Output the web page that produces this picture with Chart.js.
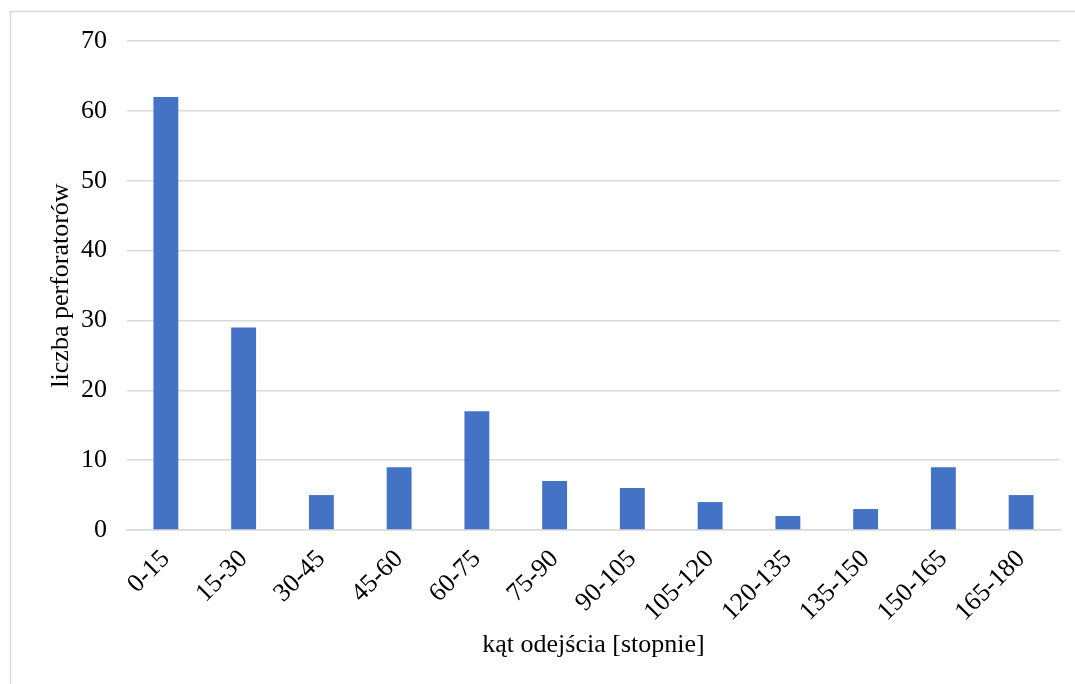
<!DOCTYPE html>
<html>
<head>
<meta charset="utf-8">
<script src="https://cdn.jsdelivr.net/npm/chart.js@4.4.0/dist/chart.umd.min.js"></script>
<style>
html,body{margin:0;padding:0;background:#fff;}
#wrap{position:relative;width:1075px;height:684px;}
</style>
</head>
<body>
<div id="wrap"><canvas id="c" width="1075" height="684"></canvas></div>
<script>
const categories = ["0-15","15-30","30-45","45-60","60-75","75-90","90-105","105-120","120-135","135-150","150-165","165-180"];
const counts = [62, 29, 5, 9, 17, 7, 6, 4, 2, 3, 9, 5];
const yTicks = [0, 10, 20, 30, 40, 50, 60, 70];
const xTitle = "kąt odejścia [stopnie]";
const yTitle = "liczba perforatorów";

const FONT = "'Liberation Serif', 'Times New Roman', serif";
const PAD_L = 46, PAD_B = 23;

const frame = {
  id: 'frame',
  beforeDraw(chart) {
    const ctx = chart.ctx;
    ctx.save();
    ctx.fillStyle = '#fff';
    ctx.fillRect(0, 0, chart.width, chart.height);
    ctx.strokeStyle = '#d9d9d9';
    ctx.lineWidth = 1.5;
    ctx.strokeRect(10.5, 11.5, 1080, 700);
    ctx.restore();
  }
};

new Chart(document.getElementById('c'), {
  type: 'bar',
  data: {
    labels: categories,
    datasets: [{
      data: counts,
      backgroundColor: '#4472c4',
      borderWidth: 0,
      barPercentage: 0.32,
      categoryPercentage: 1
    }]
  },
  options: {
    responsive: false,
    animation: false,
    devicePixelRatio: 1,
    layout: { padding: { top: 41, right: 15, bottom: PAD_B, left: PAD_L } },
    plugins: { legend: { display: false }, tooltip: { enabled: false } },
    scales: {
      x: {
        grid: { display: false, drawTicks: false },
        border: { color: '#d9d9d9', width: 1.5 },
        ticks: {
          color: '#000',
          font: { family: FONT, size: 26 },
          maxRotation: 45, minRotation: 45,
          padding: 14,
          autoSkip: false
        },
        title: {
          display: true, text: xTitle, color: '#000',
          font: { family: FONT, size: 26 },
          padding: { top: 0, bottom: 0 }
        },
        afterFit(scale) { scale.height = 684 - 530 - PAD_B; }
      },
      y: {
        min: 0, max: 70,
        afterBuildTicks(scale) { scale.ticks = yTicks.map(v => ({ value: v })); },
        grid: { color: '#d9d9d9', lineWidth: 1.5, drawTicks: false },
        border: { display: false },
        ticks: {
          color: '#000',
          font: { family: FONT, size: 26 },
          padding: 20
        },
        title: {
          display: true, text: yTitle, color: '#000',
          font: { family: FONT, size: 26 },
          padding: { top: 0, bottom: 0 }
        },
        afterFit(scale) { scale.width = 127 - PAD_L; }
      }
    }
  },
  plugins: [frame]
});
</script>
</body>
</html>
